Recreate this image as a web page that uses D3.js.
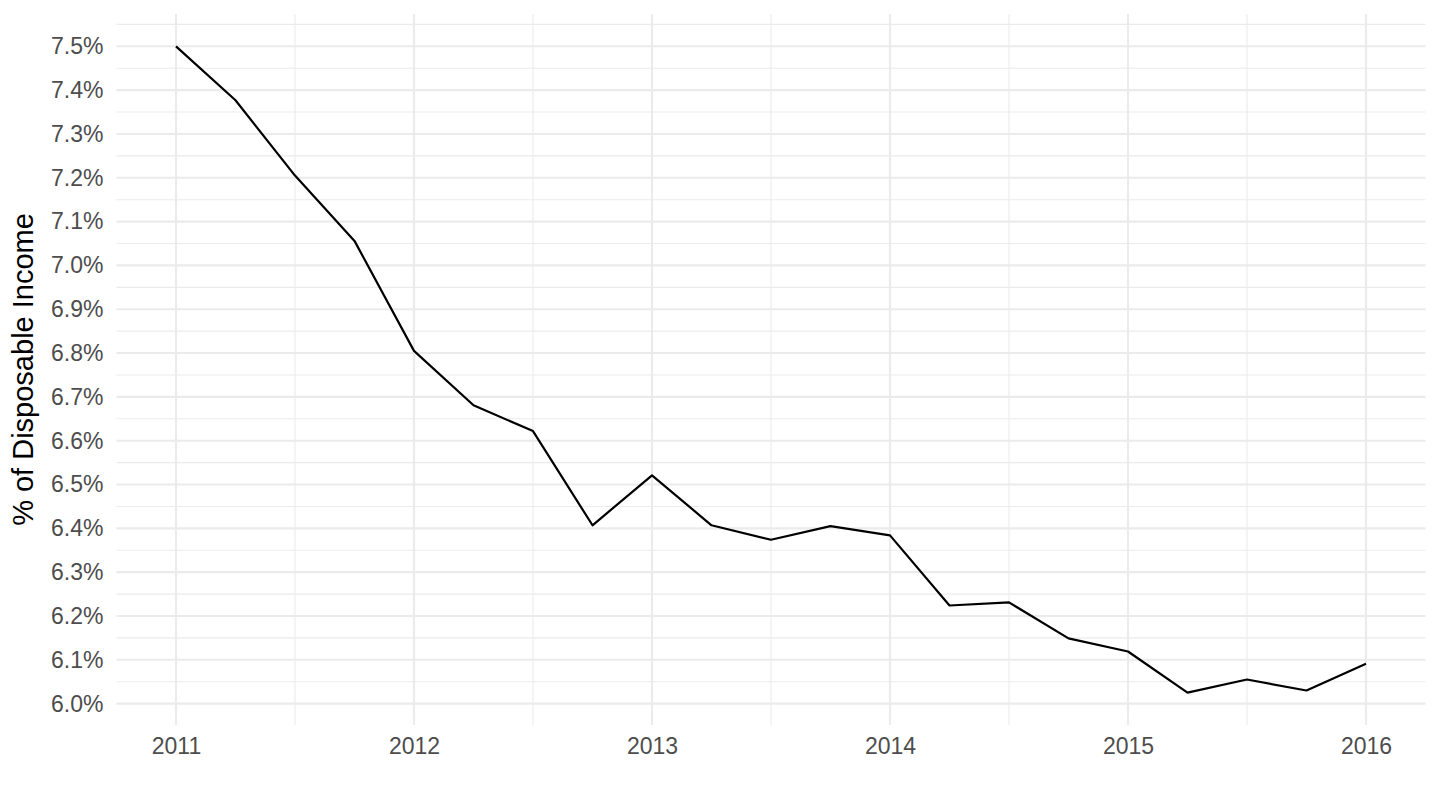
<!DOCTYPE html>
<html>
<head>
<meta charset="utf-8">
<script src="https://cdn.jsdelivr.net/npm/d3@7"></script>
<style>
  html, body { margin: 0; padding: 0; background: #ffffff; }
  svg { display: block; }
</style>
</head>
<body>
<script>
// Data: quarterly dates (decimal years) and values (% of disposable income)
const dates = [2011.00, 2011.25, 2011.50, 2011.75, 2012.00, 2012.25, 2012.50, 2012.75,
               2013.00, 2013.25, 2013.50, 2013.75, 2014.00, 2014.25, 2014.50, 2014.75,
               2015.00, 2015.25, 2015.50, 2015.75, 2016.00];
const values = [7.500, 7.377, 7.205, 7.056, 6.805, 6.681, 6.622, 6.407,
                6.521, 6.407, 6.374, 6.405, 6.384, 6.224, 6.231, 6.149,
                6.119, 6.025, 6.055, 6.030, 6.091];
const xTicks = [2011, 2012, 2013, 2014, 2015, 2016];
const xMinor = [2010.5, 2011.5, 2012.5, 2013.5, 2014.5, 2015.5, 2016.5];
const yTicks = [6.0, 6.1, 6.2, 6.3, 6.4, 6.5, 6.6, 6.7, 6.8, 6.9, 7.0, 7.1, 7.2, 7.3, 7.4, 7.5];
const yMinor = [5.95, 6.05, 6.15, 6.25, 6.35, 6.45, 6.55, 6.65, 6.75, 6.85, 6.95, 7.05, 7.15, 7.25, 7.35, 7.45, 7.55];
const yTitle = "% of Disposable Income";

const W = 1440, H = 810;
const panel = { left: 116.5, right: 1425.5, top: 14, bottom: 725 };

const svg = d3.select("body").append("svg").attr("width", W).attr("height", H);

const yMin = d3.min(values), yMax = d3.max(values);
const ySpan = yMax - yMin;
const y = d3.scaleLinear()
  .domain([yMin - 0.05 * ySpan, yMax + 0.05 * ySpan])
  .range([panel.bottom, panel.top]);
const xMinD = d3.min(dates), xMaxD = d3.max(dates), xSpan = xMaxD - xMinD;
const x = d3.scaleLinear()
  .domain([xMinD - 0.05 * xSpan, xMaxD + 0.05 * xSpan])
  .range([panel.left, panel.right]);

const grid = svg.append("g");
const yDom = y.domain(), xDom = x.domain();
// minor gridlines
grid.selectAll("line.ymin").data(yMinor.filter(v => v >= yDom[0] - 1e-9 && v <= yDom[1] + 1e-9)).join("line")
  .attr("x1", panel.left).attr("x2", panel.right)
  .attr("y1", d => y(d)).attr("y2", d => y(d))
  .attr("stroke", "#EBEBEB").attr("stroke-width", 1.1);
grid.selectAll("line.xmin").data(xMinor.filter(v => v >= xDom[0] && v <= xDom[1])).join("line")
  .attr("y1", panel.top).attr("y2", panel.bottom)
  .attr("x1", d => x(d)).attr("x2", d => x(d))
  .attr("stroke", "#EBEBEB").attr("stroke-width", 1.1);
// major gridlines
grid.selectAll("line.ymaj").data(yTicks).join("line")
  .attr("x1", panel.left).attr("x2", panel.right)
  .attr("y1", d => y(d)).attr("y2", d => y(d))
  .attr("stroke", "#EBEBEB").attr("stroke-width", 2.1);
grid.selectAll("line.xmaj").data(xTicks).join("line")
  .attr("y1", panel.top).attr("y2", panel.bottom)
  .attr("x1", d => x(d)).attr("x2", d => x(d))
  .attr("stroke", "#EBEBEB").attr("stroke-width", 2.1);

// axes (text only)
const font = "'Liberation Sans', Arial, Helvetica, sans-serif";
const yAxis = svg.append("g").attr("transform", `translate(${panel.left - 13},0)`)
  .call(d3.axisLeft(y).tickValues(yTicks).tickSize(0).tickPadding(0).tickFormat(d => d.toFixed(1) + "%"));
yAxis.select(".domain").remove();
yAxis.selectAll("text").attr("font-family", font).attr("font-size", 23).attr("fill", "#4D4D4D");

const xAxis = svg.append("g").attr("transform", `translate(0,${panel.bottom + 13})`)
  .call(d3.axisBottom(x).tickValues(xTicks).tickSize(0).tickPadding(0).tickFormat(d3.format("d")));
xAxis.select(".domain").remove();
xAxis.selectAll("text").attr("font-family", font).attr("font-size", 23).attr("fill", "#4D4D4D")
  .attr("dy", "0.71em");

// line
const pts = dates.map((d, i) => [d, values[i]]);
svg.append("path")
  .datum(pts)
  .attr("fill", "none")
  .attr("stroke", "#000000")
  .attr("stroke-width", 2.2)
  .attr("stroke-linejoin", "round")
  .attr("d", d3.line().x(d => x(d[0])).y(d => y(d[1])));

// y title
svg.append("text")
  .attr("transform", `translate(33,${(panel.top + panel.bottom) / 2}) rotate(-90)`)
  .attr("text-anchor", "middle")
  .attr("font-family", font)
  .attr("font-size", 29)
  .attr("fill", "#000000")
  .text(yTitle);
</script>
</body>
</html>
